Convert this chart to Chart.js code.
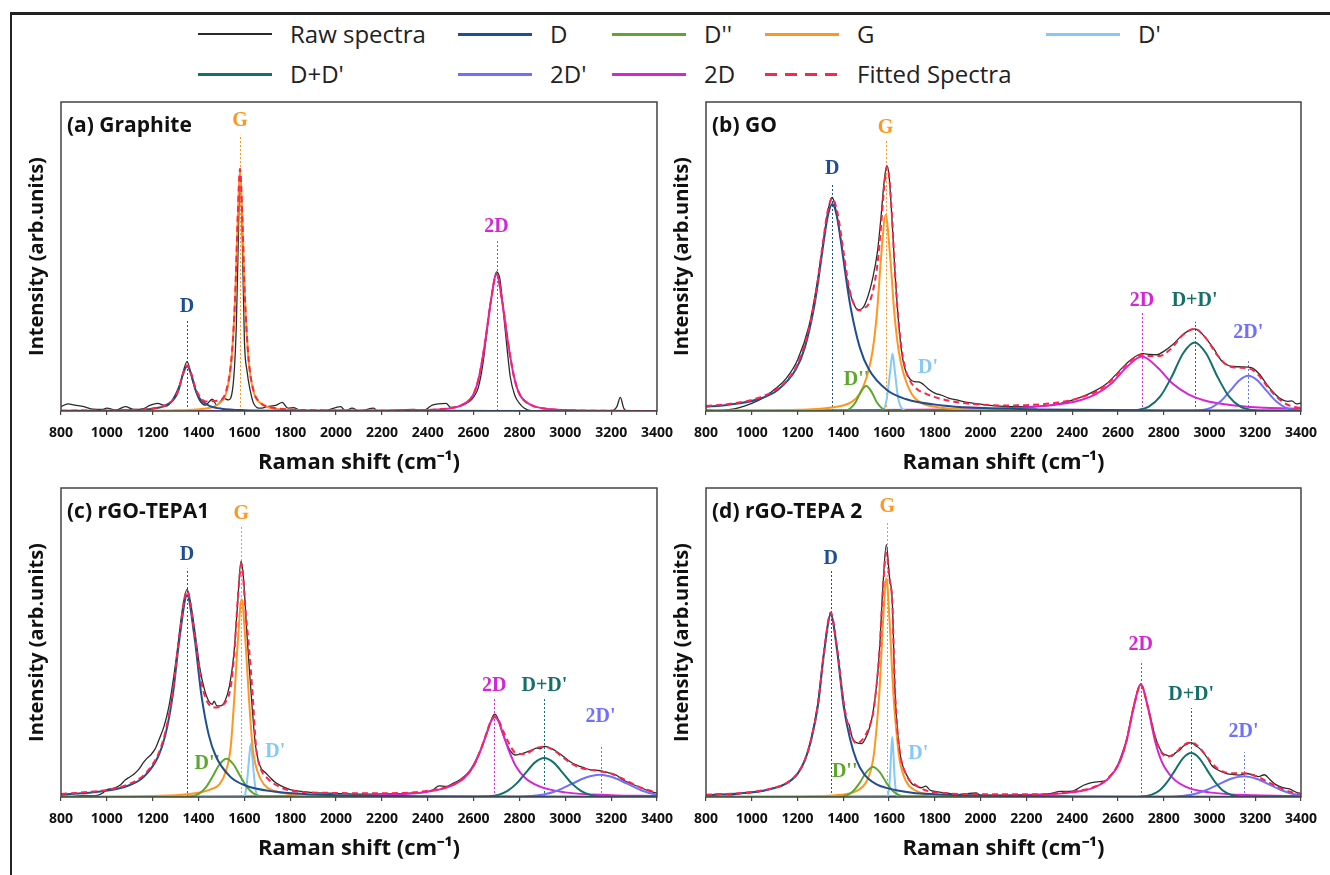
<!DOCTYPE html>
<html>
<head>
<meta charset="utf-8">
<script src="https://cdn.jsdelivr.net/npm/chart.js@4.4.1/dist/chart.umd.min.js"></script>
<style>
  html, body { margin: 0; padding: 0; background: #fff; overflow: hidden; }
  body { width: 1330px; height: 875px; position: relative; font-family: 'Open Sans', sans-serif; }
  #frame { position: absolute; left: 10px; top: 12px; right: 0; bottom: 0; border-left: 2px solid #222; border-top: 3px solid #222; }
  canvas { position: absolute; }
  .lg-line { position: absolute; width: 74px; }
  .lg-text { position: absolute; font-size: 24px; line-height: 34px; color: #222; white-space: nowrap; }
</style>
</head>
<body>
<div id="frame"></div>
<div id="legend"></div>
<canvas id="pa"></canvas>
<canvas id="pb"></canvas>
<canvas id="pc"></canvas>
<canvas id="pd"></canvas>
<script>
// axe x commun
const xTicks = [800, 1000, 1200, 1400, 1600, 1800, 2000, 2200, 2400, 2600, 2800, 3000, 3200, 3400];
const seriesNames = ['Raw spectra', 'D', "D''", 'G', "D'", "D+D'", "2D'", '2D', 'Fitted Spectra'];

// (a) Graphite  -- [Raman shift, intensité relative 0..100]
const aRaw = [[800,1.4],[830,2.3],[860,1.9],[900,1.4],[940,0.6],[980,0.5],[1000,0.9],[1040,0.3],[1080,1.4],[1120,0.5],[1160,0.8],[1190,1.9],[1220,2.5],[1260,1.6],[1290,4.1],[1320,9],[1350,16],[1375,9.5],[1400,4.1],[1430,1.9],[1460,3.8],[1480,1.9],[1510,4.1],[1530,3.6],[1550,7.9],[1565,28],[1575,61],[1581,78.5],[1590,59],[1600,23],[1612,12.7],[1625,6.8],[1640,2.5],[1670,0.9],[1700,1.4],[1740,1.9],[1765,2.8],[1790,0.9],[1815,1.1],[1850,0],[1950,0.1],[2020,1.4],[2040,0.1],[2070,0.9],[2100,0],[2165,0.9],[2180,0],[2340,0.5],[2380,0.1],[2420,1.9],[2480,2.5],[2500,1.2],[2540,1.6],[2580,3],[2600,4.5],[2620,7.5],[2640,15],[2660,27],[2680,38],[2700,45],[2715,42.5],[2730,32],[2745,21],[2760,11],[2780,5],[2800,2.5],[2820,1],[2850,0.1],[2900,0],[3200,0],[3225,1.4],[3240,4.4],[3255,0.9],[3270,0],[3400,0]];
const aD = [[800,0.06],[1100,0.28],[1200,0.75],[1250,1.6],[1280,2.9],[1300,4.6],[1315,7.3],[1330,11.4],[1350,14.5],[1370,11.4],[1385,7.3],[1400,4.6],[1420,2.9],[1450,1.6],[1500,0.75],[1600,0.28],[1900,0.06],[3400,0]];
const aG = [[800,0.02],[1281,0.2],[1431,0.8],[1491,2.5],[1521,6],[1541,14.5],[1551,24],[1561,39],[1571,62.4],[1581,78],[1591,62.4],[1601,39],[1611,24],[1621,14.5],[1641,6],[1671,2.5],[1731,0.8],[1881,0.2],[3400,0]];
const a2D = [[800,0],[2200,0.05],[2400,0.3],[2500,0.9],[2550,2],[2600,5.5],[2625,11.5],[2650,22.2],[2675,35.4],[2700,44.3],[2725,35.4],[2750,22.2],[2775,11.5],[2800,5.5],[2850,2],[2900,0.9],[3000,0.3],[3200,0.05],[3400,0]];
const aFit = [[800,0.1],[1100,0.3],[1200,0.8],[1250,1.7],[1280,3],[1300,4.7],[1315,7.4],[1330,11.6],[1350,14.8],[1370,11.8],[1385,7.8],[1400,5.3],[1431,3.1],[1491,3.4],[1521,6.6],[1541,15],[1551,24.4],[1561,39.4],[1571,62.8],[1581,78.3],[1591,62.7],[1601,39.3],[1611,24.3],[1621,14.8],[1641,6.3],[1671,2.7],[1731,1],[1881,0.3],[2200,0.1],[2400,0.35],[2500,0.95],[2550,2],[2600,5.5],[2625,11.5],[2650,22.2],[2675,35.4],[2700,44.3],[2725,35.4],[2750,22.2],[2775,11.5],[2800,5.5],[2850,2],[2900,0.9],[3000,0.3],[3200,0.05],[3400,0]];
// [nom, position, haut du pointillé (null = pas de trait), hauteur de l'étiquette]
const aPeaks = [['D',1350,29.5,33.6],['G',1581,89.4,94],['2D',2700,54.9,59.7]];

// (b) GO
const bRaw = [[800,0.3],[850,0.2],[900,0.4],[950,1.2],[1000,2.5],[1050,4.2],[1100,7],[1150,10.5],[1200,16.5],[1250,27.5],[1280,39],[1310,53.5],[1330,63.5],[1345,68.5],[1352,69.1],[1365,66],[1390,55],[1420,41],[1450,34],[1465,32.8],[1480,33],[1500,35.5],[1530,43.5],[1550,52],[1565,63],[1578,74],[1590,79.4],[1600,76],[1612,63],[1625,46],[1640,30],[1655,19],[1670,13.5],[1690,10.5],[1710,9.5],[1730,9.4],[1750,8.6],[1770,7.2],[1800,5.8],[1830,5.1],[1860,4.2],[1900,3.5],[1950,2.7],[2000,2.2],[2100,1.5],[2200,1.4],[2300,1.8],[2350,2.5],[2400,3.5],[2450,4.8],[2500,6.5],[2550,8.8],[2600,12.5],[2650,16.2],[2690,18.2],[2710,18.6],[2740,18.3],[2770,18.2],[2800,19.3],[2840,21.5],[2880,24.5],[2910,26],[2935,26.6],[2960,25.6],[2990,23],[3020,20],[3050,16.5],[3080,14.8],[3110,14.4],[3140,14.3],[3170,14.2],[3190,13.8],[3220,11.8],[3250,8.6],[3280,6],[3310,4],[3340,3.1],[3360,3.3],[3380,2.3],[3400,2.6]];
const bD = [[800,1.4],[872,1.8],[1032,3.9],[1112,6.7],[1192,13.4],[1232,20.6],[1272,33.5],[1292,42.9],[1312,53.6],[1332,63],[1352,67],[1372,63],[1392,53.6],[1412,42.9],[1432,33.5],[1472,20.6],[1512,13.4],[1592,6.7],[1672,3.9],[1832,1.8],[1992,1.03],[2252,0.52],[2800,0.2],[3400,0.12]];
const bDpp = [[800,0],[1400,0],[1430,0.8],[1455,3],[1475,6],[1500,8.1],[1525,6],[1545,3],[1570,0.8],[1600,0],[3400,0]];
const bG = [[800,0.1],[1205,0.4],[1357,1.2],[1433,2.8],[1471,5.5],[1509,12.7],[1528,19.5],[1547,31.7],[1566,50.7],[1585,63.4],[1604,50.7],[1623,31.7],[1642,19.5],[1661,12.7],[1699,5.5],[1737,2.8],[1813,1.2],[1965,0.4],[2400,0.1],[3400,0.05]];
const bDp = [[800,0],[1570,0],[1590,4],[1605,13],[1615,18.6],[1625,13],[1640,4],[1660,0.5],[1680,0],[3400,0]];
const bDDp = [[800,0],[2600,0],[2635,0.05],[2685,0.3],[2735,1.4],[2785,4.7],[2835,11.1],[2885,18.7],[2935,22.2],[2985,18.7],[3035,11.1],[3085,4.7],[3135,1.4],[3185,0.3],[3235,0.05],[3400,0]];
const b2Dp = [[800,0],[2930,0.05],[2970,0.3],[3010,1.2],[3050,3.2],[3090,6.5],[3130,9.9],[3170,11.4],[3210,9.9],[3250,6.5],[3290,3.2],[3330,1.2],[3370,0.3],[3400,0.1]];
const b2D = [[800,0.09],[1905,0.5],[2165,1.04],[2300,1.76],[2435,3.5],[2502,5.4],[2570,8.8],[2637,14.1],[2705,17.6],[2773,14.1],[2840,8.8],[2908,5.4],[2975,3.5],[3110,1.76],[3245,1.04],[3400,0.75]];
const bFit = [[800,1.6],[900,2.3],[1000,3.6],[1100,6.6],[1150,9.6],[1200,15.2],[1250,26.5],[1280,38],[1310,54],[1330,64],[1352,68.8],[1375,64],[1400,52],[1425,40],[1450,34],[1470,32.5],[1490,33.3],[1510,34.5],[1530,39],[1550,48],[1565,60],[1578,72],[1590,79],[1600,76],[1612,64],[1625,46],[1640,30],[1655,20],[1670,14],[1690,10],[1720,7.2],[1760,5.6],[1800,4.5],[1900,2.8],[2000,2.1],[2100,1.8],[2200,1.9],[2300,2.4],[2400,3.6],[2450,4.7],[2502,6.1],[2570,9.8],[2637,15],[2705,18.2],[2740,17.8],[2780,17.8],[2830,20],[2885,24.7],[2935,26.6],[2985,23.5],[3035,18],[3085,14.5],[3130,14],[3170,13.8],[3210,12],[3250,8.2],[3290,4.8],[3330,2.5],[3370,1.3],[3400,1]];
const bPeaks = [['D',1352,73.4,78.4],['G',1585,87.4,91.7],["D''",1458,null,10],["D'",1770,null,14.1],['2D',2705,31.8,35.7],["D+D'",2935,28.9,35.7],["2D'",3170,16.3,25.3]];

// (c) rGO-TEPA1
const cRaw = [[800,0.3],[850,0.2],[900,0.5],[950,0.4],[980,1.2],[1000,2.4],[1030,2.8],[1060,4],[1080,5.5],[1100,6.5],[1120,7.5],[1140,9],[1160,11.2],[1175,12.5],[1190,13.5],[1210,15.5],[1230,19],[1250,23],[1270,29],[1290,38],[1310,49],[1330,61],[1350,67.2],[1365,63],[1385,53],[1405,42],[1425,35],[1445,31],[1460,30],[1468,31],[1480,29.5],[1495,29.5],[1515,31],[1535,36],[1555,47],[1570,62],[1585,76.3],[1597,70],[1610,54],[1622,41],[1635,28],[1648,17],[1660,12],[1675,9],[1690,8],[1710,6.5],[1730,5],[1760,3.6],[1800,2.4],[1850,1.8],[1900,1.4],[2000,1.2],[2100,0.9],[2200,1],[2300,1.2],[2380,1.5],[2420,2.2],[2450,3.6],[2480,3.4],[2510,4.4],[2540,5.6],[2570,7.4],[2590,9.3],[2610,12],[2635,16],[2660,21],[2680,25.5],[2692,26.8],[2705,25.5],[2720,22],[2740,18],[2760,15],[2780,13.6],[2800,13.8],[2830,14.5],[2855,15.2],[2875,15.8],[2890,15.6],[2910,16.4],[2935,15.8],[2960,14.8],[2990,13.2],[3020,11.5],[3050,10.3],[3080,9.5],[3110,8.8],[3140,8.6],[3160,8.4],[3190,7.8],[3220,7.2],[3250,5.6],[3290,4.2],[3330,3],[3370,1.8],[3400,1.2]];
const cD = [[800,0.84],[972,1.76],[1098,3.8],[1161,6.5],[1224,13.1],[1255.5,20.1],[1287,32.7],[1318.5,52.2],[1350,65.3],[1381.5,52.2],[1413,32.7],[1444.5,20.1],[1476,13.1],[1539,6.5],[1602,3.8],[1728,1.76],[1900,0.84],[2350,0.26],[3400,0.06]];
const cDpp = [[800,0],[1340,0],[1372,0.26],[1402,1.05],[1432,3.1],[1462,6.7],[1492,10.6],[1522,12.4],[1552,10.6],[1582,6.7],[1612,3.1],[1642,1.05],[1672,0.26],[1710,0],[3400,0]];
const cG = [[800,0.05],[1300,0.6],[1400,1.4],[1450,2.4],[1490,4],[1520,8.5],[1540,16],[1556,32],[1572,51],[1588,64],[1604,51],[1620,32],[1636,16],[1656,8.5],[1686,4],[1730,2],[1800,1],[2000,0.35],[2500,0.1],[3400,0.03]];
const cDp = [[800,0],[1595,0],[1605,1.5],[1613,6],[1620,12],[1628,17.2],[1636,12],[1643,6],[1651,1.5],[1662,0],[3400,0]];
const cDDp = [[800,0],[2610,0],[2658,0.14],[2708,0.7],[2748,2],[2788,4.4],[2828,7.9],[2868,11.2],[2908,12.6],[2948,11.2],[2988,7.9],[3028,4.4],[3068,2],[3108,0.7],[3158,0.14],[3200,0],[3400,0]];
const c2Dp = [[800,0],[2800,0],[2850,0.3],[2910,0.9],[2970,2.2],[3030,4.3],[3090,6.3],[3150,7.2],[3210,6.3],[3270,4.3],[3330,2.2],[3390,0.9],[3400,0.8]];
const c2D = [[800,0.05],[2000,0.3],[2200,0.6],[2400,1.7],[2500,3.5],[2560,6.2],[2600,10],[2630,15],[2654,20],[2675,24.3],[2692,25.8],[2710,24.3],[2730,20],[2754,15],[2784,10],[2824,6.2],[2884,3.5],[3000,1.5],[3200,0.6],[3400,0.3]];
const cFit = [[800,1],[900,1.5],[1000,2.3],[1100,4.3],[1160,7],[1200,10.6],[1224,13.8],[1255,21],[1287,33.6],[1318,53.2],[1350,66.7],[1381,53.8],[1413,37],[1445,30],[1480,29],[1500,29.5],[1520,31],[1540,35.5],[1556,46.5],[1572,65],[1588,75.5],[1604,61],[1620,48.5],[1636,33],[1651,16.2],[1670,9.4],[1700,6.1],[1750,3.4],[1800,2.1],[2000,1.3],[2200,1.2],[2400,2],[2500,3.7],[2560,6.4],[2600,10.2],[2630,15.2],[2654,20.2],[2675,24.5],[2692,26],[2710,24.7],[2730,21.2],[2754,17.4],[2784,14.2],[2824,13.9],[2868,15.7],[2908,16.3],[2948,15.2],[2988,12.9],[3028,10.8],[3068,9.4],[3108,8.8],[3150,8.4],[3210,7.3],[3270,5.2],[3330,3],[3400,1.5]];
const cPeaks = [['D',1350,73.9,78.5],['G',1587,87.6,91.7],["D''",1438,null,10.8],["D'",1735,null,14.5],['2D',2690,32.3,36],["D+D'",2909,32.3,36],["2D'",3154,16.7,25.8]];

// (d) rGO-TEPA 2
const dRaw = [[800,0.5],[850,0.9],[900,0.6],[950,1.1],[1000,1.4],[1050,2],[1100,3],[1150,4.4],[1200,7.6],[1233,12.2],[1261,19.4],[1289,30.5],[1317,48],[1345,59.4],[1373,48],[1401,31],[1415,24.5],[1425,23.5],[1440,19],[1460,17.5],[1480,17.3],[1500,19.5],[1515,22.5],[1530,27.5],[1545,36],[1559,48.5],[1573,68],[1588,81.7],[1602,71],[1614,63.5],[1624,38],[1631,27],[1646,15],[1660,10],[1675,7.4],[1700,4.3],[1720,3.5],[1740,3],[1760,3.5],[1780,2.2],[1800,1.8],[1850,1.3],[1900,0.8],[1980,1.3],[2000,0.6],[2100,0.6],[2200,0.8],[2300,1.1],[2350,1.8],[2400,1.9],[2450,3.8],[2480,4.6],[2520,5],[2550,5.4],[2575,7.6],[2590,8.8],[2607,11.8],[2638,18.6],[2669,29.6],[2700,36.6],[2731,29.3],[2762,19.8],[2793,14.4],[2815,13.5],[2835,13.2],[2850,14.2],[2870,15.2],[2885,16.4],[2905,17.2],[2920,17.6],[2940,16.6],[2960,15.5],[2990,12.7],[3010,10.2],[3035,8.8],[3060,8],[3080,7.5],[3100,7.3],[3130,7.1],[3160,7.6],[3190,7.2],[3215,6.6],[3240,7.2],[3265,5.6],[3290,4],[3320,3],[3350,2.6],[3380,1.5],[3400,1.1]];
const dD = [[800,0.6],[1000,1.5],[1100,2.9],[1150,4.3],[1200,7.5],[1233,12],[1261,18.9],[1289,29.6],[1317,47.3],[1345,59.1],[1373,47.3],[1401,29.6],[1429,18.9],[1457,12],[1490,7.5],[1540,4.3],[1600,2.7],[1700,1.4],[1800,0.9],[2000,0.45],[2400,0.2],[3400,0.1]];
const dDpp = [[800,0],[1350,0],[1380,0.07],[1410,0.4],[1440,1.7],[1470,4.4],[1500,8],[1530,9.7],[1560,8],[1590,4.4],[1620,1.7],[1650,0.4],[1680,0.07],[1720,0],[3400,0]];
const dG = [[800,0.05],[1188,0.15],[1388,0.7],[1458,2],[1501,5],[1530,12],[1545,22],[1559,35.4],[1573.5,56.6],[1588,70.8],[1602.5,56.6],[1617,35.4],[1631,22],[1646,12],[1675,5],[1718,2],[1788,0.7],[1988,0.15],[3400,0.02]];
const dDp = [[800,0],[1590,0],[1598,1.7],[1604,6.5],[1609,14],[1614,19.4],[1619,14],[1624,6.5],[1630,1.7],[1640,0],[3400,0]];
const dDDp = [[800,0],[2660,0],[2700,0.1],[2745,0.7],[2780,2],[2815,4.8],[2850,8.7],[2885,12.6],[2920,14.2],[2955,12.6],[2990,8.7],[3025,4.8],[3060,2],[3095,0.7],[3140,0.1],[3180,0],[3400,0]];
const d2Dp = [[800,0],[2820,0],[2875,0.3],[2930,0.9],[2985,2.2],[3040,4.1],[3095,5.9],[3150,6.7],[3205,5.9],[3260,4.1],[3315,2.2],[3370,0.9],[3400,0.6]];
const d2D = [[800,0.05],[2000,0.3],[2200,0.55],[2400,1.5],[2500,3.2],[2560,6.1],[2607,11.2],[2638,18.2],[2669,29],[2700,36.3],[2731,29],[2762,18.2],[2793,11.2],[2840,6.1],[2900,3.2],[3000,1.5],[3200,0.55],[3400,0.3]];
const dFit = [[800,0.7],[1000,1.6],[1100,3],[1150,4.4],[1200,7.7],[1233,12.2],[1261,19.2],[1289,30],[1317,47.8],[1345,59.7],[1373,48],[1401,30.8],[1429,21.3],[1457,17.3],[1490,19.2],[1515,23],[1530,27],[1545,36],[1559,48],[1573,67],[1588,79],[1602,70.4],[1614,62.8],[1624,38],[1631,27],[1646,15],[1675,7.2],[1718,3.8],[1800,1.5],[2000,0.9],[2200,0.85],[2400,1.7],[2500,3.4],[2560,6.3],[2607,11.4],[2638,18.4],[2669,29.2],[2700,36.4],[2731,29.1],[2762,19.4],[2793,14.1],[2815,13],[2850,14.2],[2885,16.7],[2920,17.7],[2955,16.1],[2990,12.9],[3025,9.9],[3060,8.2],[3095,7.7],[3150,7.7],[3205,6.7],[3260,4.7],[3315,2.7],[3370,1.35],[3400,1]];
const dPeaks = [['D',1345,73.7,77.2],['G',1592,89.2,94],["D''",1406,null,8.1],["D'",1728,null,14],['2D',2700,43.5,49.2],["D+D'",2920,28.8,33.1],["2D'",3149,14.5,21.2]];

// styles des courbes
const look = {
  'Raw spectra':    { color: '#2b2b2b', width: 1.3, order: 10 },
  'D':              { color: '#1f4e91', width: 2, order: 2 },
  "D''":            { color: '#5ea62e', width: 2, order: 3 },
  'G':              { color: '#ff9620', width: 2, order: 4 },
  "D'":             { color: '#86c8f6', width: 2, order: 5 },
  "D+D'":           { color: '#13706a', width: 2, order: 6 },
  "2D'":            { color: '#7070ff', width: 2, order: 7 },
  '2D':             { color: '#d624d6', width: 2, order: 8 },
  'Fitted Spectra': { color: '#ff2448', width: 2, order: 0, dash: [6, 4] }
};

const panels = [
  { id: 'pa', title: '(a) Graphite', box: [61, 102, 659, 411], peaks: aPeaks,
    series: { 'Raw spectra': aRaw, 'D': aD, 'G': aG, '2D': a2D, 'Fitted Spectra': aFit } },
  { id: 'pb', title: '(b) GO', box: [706, 102, 1303, 411], peaks: bPeaks,
    series: { 'Raw spectra': bRaw, 'D': bD, "D''": bDpp, 'G': bG, "D'": bDp, "D+D'": bDDp, "2D'": b2Dp, '2D': b2D, 'Fitted Spectra': bFit } },
  { id: 'pc', title: '(c) rGO-TEPA1', box: [61, 488, 659, 797], peaks: cPeaks,
    series: { 'Raw spectra': cRaw, 'D': cD, "D''": cDpp, 'G': cG, "D'": cDp, "D+D'": cDDp, "2D'": c2Dp, '2D': c2D, 'Fitted Spectra': cFit } },
  { id: 'pd', title: '(d) rGO-TEPA 2', box: [706, 488, 1303, 797], peaks: dPeaks,
    series: { 'Raw spectra': dRaw, 'D': dD, "D''": dDpp, 'G': dG, "D'": dDp, "D+D'": dDDp, "2D'": d2Dp, '2D': d2D, 'Fitted Spectra': dFit } }
];

Chart.defaults.font.family = "'Open Sans', sans-serif";

// cadre, pointillés des pics, étiquettes et titre du panneau
const panelDeco = {
  id: 'panelDeco',
  beforeDatasetsDraw(chart, args, opts) {
    const { ctx, chartArea: ca, scales: { x, y } } = chart;
    ctx.save();
    opts.peaks.forEach(([name, xv, top, ly]) => {
      const px = x.getPixelForValue(xv);
      ctx.fillStyle = look[name].color;
      ctx.strokeStyle = look[name].color;
      if (top !== null) {
        ctx.lineWidth = 1;
        ctx.setLineDash([2, 2]);
        ctx.beginPath();
        ctx.moveTo(Math.round(px) + 0.5, y.getPixelForValue(0));
        ctx.lineTo(Math.round(px) + 0.5, y.getPixelForValue(top));
        ctx.stroke();
        ctx.setLineDash([]);
      }
      ctx.font = "bold 20px 'Liberation Serif', serif";
      ctx.textAlign = 'center';
      ctx.textBaseline = 'middle';
      ctx.fillText(name, px, y.getPixelForValue(ly));
    });
    ctx.fillStyle = '#111';
    ctx.font = "bold 21px 'Open Sans', sans-serif";
    ctx.textAlign = 'left';
    ctx.textBaseline = 'middle';
    ctx.fillText(opts.title, ca.left + 6, ca.top + 24);
    ctx.restore();
  },
  afterDraw(chart) {
    const { ctx, chartArea: ca } = chart;
    ctx.save();
    ctx.strokeStyle = '#444';
    ctx.lineWidth = 1.5;
    ctx.strokeRect(ca.left, ca.top, ca.right - ca.left, ca.bottom - ca.top);
    ctx.restore();
  }
};

function makeChart(p) {
  const [L, T, R, B] = p.box;
  const cv = document.getElementById(p.id);
  const left = L - 46, top = T - 10;
  cv.width = R - left + 24;
  cv.height = B - top + 69;
  cv.style.left = left + 'px';
  cv.style.top = top + 'px';

  const datasets = Object.entries(p.series).map(([name, pts]) => ({
    label: name,
    data: pts,
    borderColor: look[name].color,
    borderWidth: look[name].width,
    borderDash: look[name].dash || [],
    order: look[name].order,
    pointRadius: 0,
    fill: false,
    cubicInterpolationMode: 'monotone'
  }));

  new Chart(cv, {
    type: 'line',
    data: { datasets },
    plugins: [panelDeco],
    options: {
      responsive: false,
      animation: false,
      layout: { padding: { left: 6, top: 10, right: 24, bottom: 0 } },
      plugins: {
        legend: { display: false },
        tooltip: { enabled: false },
        panelDeco: { peaks: p.peaks, title: p.title }
      },
      scales: {
        x: {
          type: 'linear',
          min: xTicks[0],
          max: xTicks[xTicks.length - 1],
          afterBuildTicks: s => { s.ticks = xTicks.map(v => ({ value: v })); },
          afterFit: s => { s.height = 69; },
          ticks: { color: '#111', font: { size: 14, weight: 'bold' }, padding: 10, maxRotation: 0, autoSkip: false,
                   callback: v => String(v) },
          grid: { display: true, drawOnChartArea: false, drawTicks: true, tickLength: 4, color: '#444', lineWidth: 1.2 },
          border: { display: false },
          title: { display: true, text: 'Raman shift (cm⁻¹)', color: '#111', font: { size: 22, weight: 'bold' }, padding: { top: 0, bottom: 4 } }
        },
        y: {
          min: 0,
          max: 100,
          afterFit: s => { s.width = 40; },
          ticks: { display: false },
          grid: { display: false },
          border: { display: false },
          title: { display: true, text: 'Intensity (arb.units)', color: '#111', font: { size: 20, weight: 'bold' }, padding: { top: 4, bottom: 0 } }
        }
      }
    }
  });
}

panels.forEach(makeChart);

// légende commune en haut
const legendCols = [198, 458, 612, 765, 1046];
const legendRows = [34, 74];
const legendBox = document.getElementById('legend');
seriesNames.forEach((name, i) => {
  const col = legendCols[i < 5 ? i : i - 5];
  const rowY = legendRows[i < 5 ? 0 : 1];
  const st = look[name];
  const line = document.createElement('div');
  line.className = 'lg-line';
  const h = name === 'Raw spectra' ? 1.5 : 3;
  line.style.left = col + 'px';
  line.style.top = (rowY - h / 2) + 'px';
  line.style.height = h + 'px';
  line.style.background = st.dash
    ? `repeating-linear-gradient(90deg, ${st.color} 0 12px, transparent 12px 20px)`
    : st.color;
  legendBox.appendChild(line);
  const txt = document.createElement('div');
  txt.className = 'lg-text';
  txt.style.left = (col + 92) + 'px';
  txt.style.top = (rowY - 17) + 'px';
  txt.textContent = name;
  legendBox.appendChild(txt);
});
</script>
</body>
</html>
